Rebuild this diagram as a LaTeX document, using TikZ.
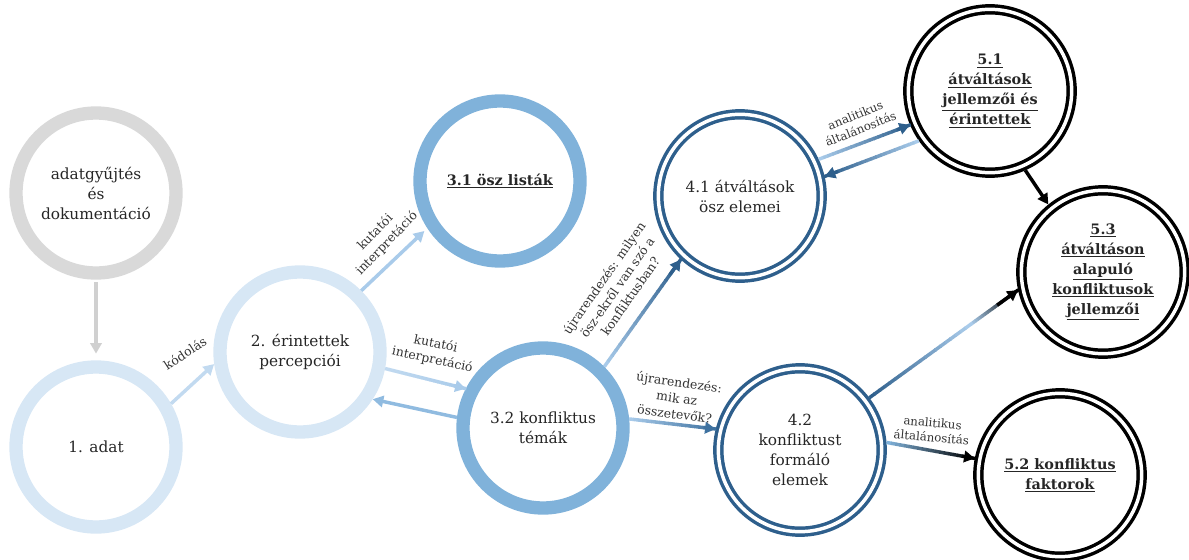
\documentclass[tikz,border=0pt]{standalone}
\usepackage{fontspec}
\setmainfont{DejaVu Serif}
\usetikzlibrary{arrows.meta,calc}
\definecolor{grayring}{HTML}{D9D9D9}
\definecolor{grayarrow}{HTML}{D0D0D0}
\definecolor{lightring}{HTML}{D7E7F5}
\definecolor{lightarrow}{HTML}{C2DAF0}
\definecolor{paleblue}{HTML}{A9CBEA}
\definecolor{medring}{HTML}{80B2DA}
\definecolor{medarrow}{HTML}{90BBE0}
\definecolor{darkblue}{HTML}{2E5F8C}
\definecolor{midblue}{HTML}{3F72A0}
\definecolor{txt}{HTML}{262626}
\definecolor{labtxt}{HTML}{333333}
\newcommand\ulb[1]{\underline{\textbf{\fontsize{10.8}{15}\selectfont #1}}}
\newcommand\gradline[6]{%
  \foreach \k in {0,...,19}{%
    \pgfmathsetmacro\ta{#5+(#6-#5)*\k/20}%
    \pgfmathsetmacro\tb{#5+(#6-#5)*(\k+1.15)/20}%
    \pgfmathtruncatemacro\pc{100-\k*100/19}%
    \draw[conn, color=#3!\pc!#4] ($(#1)!\ta!(#2)$) -- ($(#1)!\tb!(#2)$);
  }%
}
\newcommand\gradtip[3]{\draw[conn, tip, color=#3] ($(#1)!0.86!(#2)$) -- (#2);}
\tikzset{
  ring/.style={circle, minimum size=120pt, line width=10pt, outer sep=5pt, inner sep=0pt,
    align=center, text=txt, font=\fontsize{11.5}{15}\selectfont},
  dring/.style={circle, minimum size=122.5pt, draw=#1, line width=2.6pt, double=white,
    double distance=2.6pt, outer sep=3.9pt, inner sep=0pt, align=center, text=txt,
    font=\fontsize{11.5}{15}\selectfont},
  conn/.style={line width=2.6pt},
  tip/.style={-{Triangle[length=8pt,width=8.5pt]}},
  lab/.style={font=\fontsize{9.3}{12}\selectfont, text=labtxt, align=center, inner sep=1pt},
  slab/.style={font=\fontsize{8.8}{11}\selectfont, text=labtxt, align=center, inner sep=1pt},
}
\begin{document}
\begin{tikzpicture}[x=0.75pt, y=-0.75pt]
\useasboundingbox (0,0) rectangle (1189,560);
% nodes
\node[ring, draw=grayring] (g) at (96,193) {adatgyűjtés\\és\\dokumentáció};
\node[ring, draw=lightring] (n1) at (96,447) {1. adat};
\node[ring, draw=lightring] (n2) at (300,352) {2. érintettek\\percepciói};
\node[ring, draw=medring] (n31) at (500,181) {\ulb{3.1 ösz listák}};
\node[ring, draw=medring] (n32) at (543,428) {3.2 konfliktus\\témák};
\node[dring=darkblue] (n41) at (740,196) {4.1 átváltások\\ösz elemei};
\node[dring=darkblue] (n42) at (800,450) {4.2\\konfliktust\\formáló\\elemek};
\node[dring=black] (n51) at (990,91) {\ulb{5.1}\\\ulb{átváltások}\\\ulb{jellemzői és}\\\ulb{érintettek}};
\node[dring=black] (n53) at (1103,272) {\ulb{5.3}\\\ulb{átváltáson}\\\ulb{alapuló}\\\ulb{konfliktusok}\\\ulb{jellemzői}};
\node[dring=black] (n52) at (1060,475) {\ulb{5.2 konfliktus}\\\ulb{faktorok}};
% connectors
\draw[conn, tip, grayarrow, line width=3.2pt, shorten <=2pt, shorten >=5pt] (g.south) -- (n1.north);
\draw[conn, tip, lightarrow] (n1.30) -- (n2.188);
\draw[conn, tip, paleblue, shorten >=3pt] (n2.45) -- (n31.213);
\gradline{n2.-11}{n32.153}{lightarrow}{paleblue}{0}{1}
\gradtip{n2.-11}{n32.153}{paleblue}
\draw[conn, tip, medarrow] (n32.173) -- (n2.-33);
\gradline{n32.45}{n41.-133}{paleblue}{darkblue}{0}{1}
\gradtip{n32.45}{n41.-133}{darkblue}
\gradline{n32.6}{n42.166}{paleblue}{midblue}{0}{1}
\gradtip{n32.6}{n42.166}{midblue}
\gradline{n41.25}{n51.203}{paleblue}{darkblue}{0}{1}
\gradtip{n41.25}{n51.203}{darkblue}
\gradline{n51.-145}{n41.13}{paleblue}{darkblue}{0}{1}
\gradtip{n51.-145}{n41.13}{darkblue}
\draw[conn, tip, black] (n51.-66) -- (n53.129);
\gradline{n42.37}{n53.-168}{darkblue}{paleblue}{0}{0.68}
\gradline{n42.37}{n53.-168}{paleblue}{black}{0.68}{1}
\gradtip{n42.37}{n53.-168}{black}
\gradline{n42.5}{n52.169}{medring}{black}{0}{1}
\gradtip{n42.5}{n52.169}{black}
% labels
\node[lab, rotate=33] (l1) at (185,353) {kódolás};
\node[lab, rotate=46] (l2) at (381,238) {kutatói\\interpretáció};
\node[lab, rotate=-12] (l3) at (434,352) {kutatói\\interpretáció};
\node[lab, rotate=55] (l4) at (617,287) {újrarendezés: milyen\\ösz-ekről van szó a\\konfliktusban?};
\node[lab, rotate=-8] (l5) at (677,398) {újrarendezés:\\mik az\\összetevők?};
\node[slab, rotate=22] (l6) at (858,122) {analitikus\\általánosítás};
\node[slab, rotate=-5] (l7) at (932,430) {analitikus\\általánosítás};
\end{tikzpicture}
\end{document}
